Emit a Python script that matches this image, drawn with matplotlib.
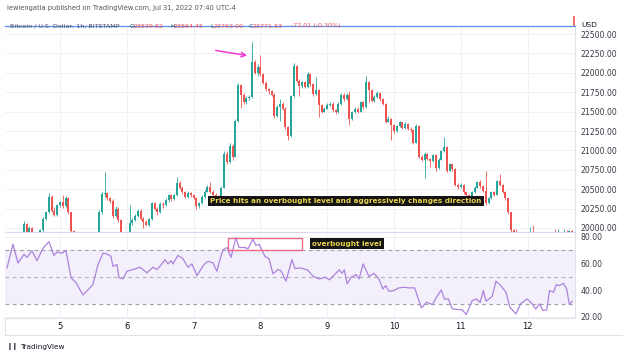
import numpy as np
import matplotlib.pyplot as plt
from matplotlib.patches import Rectangle
from matplotlib.lines import Line2D

# =========================
# DATA (BTC/USD 1h, Jul 4 - Jul 12 2022)
# =========================
start_day = 4 + 5 / 24   # first candle: Jul 4, 05:00
first_open = 19690

closes = [
    19720, 19780, 19850, 19810, 19760, 19800, 20050, 19920, 20000, 19900,
    19870, 19890, 19970, 20120, 20200, 20400, 20220, 20170, 20290, 20330,
    20280, 20390, 20200, 19960, 19800, 19650, 19550, 19420, 19480, 19560,
    19620, 19700, 19780, 20200, 20440, 20450, 20380, 20350, 20150, 20250,
    20100, 19900, 19850, 19880, 20060, 20100, 20150, 20220, 20120, 20080,
    20040, 20110, 20320, 20250, 20200, 20310, 20290, 20360, 20420, 20370,
    20420, 20580, 20520, 20460, 20400, 20450, 20420, 20390, 20280, 20320,
    20400, 20470, 20530, 20470, 20430, 20380, 20400, 20520, 20960, 20850,
    21060, 20920, 21380, 21840, 21720, 21620, 21670, 21690, 22140, 22000,
    22080, 21980, 21870, 21790, 21760, 21720, 21440, 21560, 21600, 21540,
    21300, 21180, 21700, 22090, 21900, 21830, 21880, 21820, 21990, 21850,
    21730, 21780, 21580, 21500, 21540, 21590, 21600, 21520, 21490, 21600,
    21720, 21660, 21720, 21400, 21490, 21540, 21500, 21620, 21560, 21880,
    21780, 21640, 21690, 21740, 21660, 21600, 21370, 21410, 21330, 21250,
    21310, 21360, 21290, 21340, 21280, 21260, 21100, 21320, 20920, 20880,
    20960, 20890, 20860, 20940, 20770, 20880, 20990, 21050, 20740, 20820,
    20760, 20560, 20530, 20560, 20460, 20420, 20400, 20460, 20520, 20590,
    20540, 20480, 20320, 20380, 20460, 20430, 20600, 20560, 20470, 20380,
    20200, 19970, 19880, 19820, 19760, 19700, 19720, 19820, 19940, 19900,
    19840, 19780, 19720, 19760, 19690, 19700, 19880, 19860, 19920, 19900,
    19950, 19930, 19960, 19820,
]
highs = [
    19760, 19800, 19880, 19870, 19830, 19830, 20090, 20070, 20020, 20010,
    19920, 19910, 19990, 20140, 20220, 20450, 20420, 20270, 20310, 20350,
    20430, 20410, 20400, 20210, 19980, 19820, 19670, 19570, 19510, 19580,
    19650, 19720, 19800, 20230, 20470, 20720, 20470, 20400, 20370, 20280,
    20270, 20110, 19920, 19900, 20290, 20130, 20180, 20240, 20240, 20140,
    20100, 20130, 20340, 20340, 20270, 20330, 20330, 20380, 20440, 20440,
    20440, 20660, 20600, 20540, 20480, 20480, 20470, 20440, 20400, 20340,
    20420, 20490, 20560, 20590, 20490, 20450, 20420, 20540, 20990, 20990,
    21090, 21080, 21400, 21870, 21850, 21740, 21700, 21720, 22400, 22160,
    22120, 22230, 22000, 21890, 21810, 21780, 21740, 21590, 21660, 21620,
    21560, 21320, 21720, 22130, 22100, 21920, 21900, 21900, 22010, 22000,
    21870, 21950, 21790, 21600, 21560, 21610, 21620, 21620, 21540, 21620,
    21740, 21740, 21740, 21760, 21510, 21560, 21560, 21640, 21640, 21960,
    21890, 21790, 21710, 21760, 21750, 21670, 21610, 21440, 21420, 21340,
    21330, 21380, 21370, 21360, 21350, 21300, 21280, 21340, 21330, 20940,
    20980, 20970, 20900, 20960, 20950, 20900, 21010, 21170, 21060, 20840,
    20830, 20770, 20580, 20580, 20570, 20480, 20440, 20480, 20540, 20610,
    20620, 20550, 20740, 20400, 20480, 20480, 20620, 20700, 20570, 20480,
    20390, 20210, 19990, 19990, 19840, 19780, 19740, 19840, 20010, 20040,
    19910, 19850, 19790, 19780, 19770, 19720, 19900, 19990, 19990, 19940,
    19990, 19970, 19980, 19970,
]
lows = [
    19670, 19710, 19770, 19790, 19740, 19750, 19790, 19900, 19910, 19880,
    19850, 19860, 19880, 19950, 20100, 20190, 20200, 20150, 20160, 20270,
    20260, 20270, 20180, 19900, 19760, 19620, 19520, 19380, 19400, 19460,
    19540, 19600, 19690, 19770, 20180, 20400, 20360, 20320, 20130, 20140,
    20080, 19870, 19820, 19830, 19870, 20040, 20090, 20140, 20100, 20000,
    20020, 20030, 20100, 20230, 20170, 20190, 20260, 20280, 20340, 20350,
    20360, 20410, 20500, 20440, 20380, 20390, 20400, 20370, 20240, 20260,
    20310, 20390, 20460, 20450, 20410, 20360, 20300, 20390, 20510, 20820,
    20840, 20880, 20910, 21370, 21550, 21600, 21600, 21650, 21680, 21980,
    21960, 21960, 21850, 21770, 21730, 21700, 21420, 21430, 21380, 21520,
    21280, 21130, 21170, 21690, 21880, 21700, 21810, 21800, 21810, 21830,
    21700, 21720, 21430, 21480, 21490, 21530, 21570, 21500, 21470, 21480,
    21590, 21640, 21650, 21330, 21390, 21480, 21480, 21490, 21540, 21550,
    21620, 21620, 21630, 21680, 21640, 21580, 21350, 21360, 21140, 21230,
    21240, 21300, 21270, 21280, 21260, 21240, 21080, 21090, 20900, 20860,
    20650, 20870, 20780, 20850, 20730, 20760, 20870, 20980, 20720, 20730,
    20740, 20540, 20500, 20520, 20440, 20400, 20380, 20390, 20450, 20510,
    20520, 20460, 20300, 20310, 20370, 20410, 20420, 20540, 20450, 20360,
    20180, 19950, 19860, 19800, 19740, 19680, 19680, 19710, 19810, 19880,
    19820, 19760, 19700, 19710, 19670, 19680, 19690, 19840, 19850, 19880,
    19890, 19910, 19920, 19800,
]

# RSI(14) line, sampled along the chart (day of month, value)
rsi_days = [
    4.207, 4.296, 4.371, 4.461, 4.506, 4.581, 4.656, 4.746, 4.835, 4.910,
    4.955, 5.030, 5.090, 5.165, 5.240, 5.344, 5.404, 5.494, 5.569, 5.644,
    5.704, 5.763, 5.793, 5.853, 5.883, 5.943, 6.003, 6.093, 6.198, 6.302,
    6.392, 6.452, 6.527, 6.572, 6.617, 6.662, 6.692, 6.766, 6.841, 6.916,
    6.976, 7.051, 7.156, 7.216, 7.290, 7.350, 7.380, 7.440, 7.500, 7.560,
    7.635, 7.680, 7.769, 7.814, 7.889, 7.934, 7.979, 8.069, 8.129, 8.189,
    8.263, 8.308, 8.383, 8.473, 8.518, 8.593, 8.705, 8.795, 8.883, 8.973,
    9.033, 9.121, 9.181, 9.223, 9.257, 9.299, 9.359, 9.436, 9.478, 9.537,
    9.626, 9.698, 9.775, 9.834, 9.876, 9.924, 9.996, 10.072, 10.150, 10.220,
    10.310, 10.410, 10.488, 10.576, 10.636, 10.708, 10.754, 10.814, 10.874, 11.022,
    11.082, 11.171, 11.231, 11.290, 11.337, 11.379, 11.469, 11.527, 11.599, 11.677,
    11.735, 11.825, 11.895, 11.991, 12.061, 12.121, 12.181, 12.229, 12.287, 12.329,
    12.389, 12.430, 12.478, 12.537, 12.585, 12.626, 12.668,
]
rsi_vals = [
    56.8, 74.6, 60.5, 67.0, 64.7, 69.6, 62.2, 71.6, 76.5, 66.2,
    68.6, 67.9, 69.9, 49.4, 45.7, 36.5, 39.5, 44.4, 59.3, 67.9,
    67.2, 65.4, 58.0, 59.3, 49.4, 48.6, 54.3, 55.6, 57.3, 53.1,
    57.3, 55.6, 59.8, 63.0, 59.8, 62.2, 59.8, 66.2, 63.7, 57.3,
    59.8, 51.1, 59.3, 61.7, 60.5, 54.3, 60.5, 70.4, 72.1, 64.7,
    79.5, 72.1, 72.1, 71.1, 78.5, 73.6, 74.6, 65.4, 63.7, 52.3,
    55.6, 54.8, 46.9, 63.0, 56.3, 56.8, 55.3, 50.3, 48.5, 49.8,
    47.8, 52.3, 55.3, 52.8, 55.3, 44.8, 49.8, 51.8, 48.5, 59.8,
    50.3, 52.8, 48.5, 41.0, 43.5, 39.3, 39.8, 41.8, 42.3, 41.8,
    41.8, 26.8, 31.0, 29.3, 34.8, 40.3, 33.5, 33.5, 26.0, 25.3,
    21.8, 32.3, 33.5, 31.0, 39.8, 31.8, 35.3, 46.8, 43.5, 38.5,
    27.3, 22.3, 29.8, 33.5, 30.3, 26.0, 29.8, 24.8, 25.3, 39.8,
    38.5, 44.3, 43.5, 45.3, 41.0, 29.3, 31.8,
]

price_ticks = [20000, 20250, 20500, 20750, 21000, 21250, 21500, 21750, 22000, 22250, 22500]
rsi_ticks = [20, 40, 60, 80]
rsi_levels = [70, 50, 30]
day_ticks = [5, 6, 7, 8, 9, 10, 11, 12]

# =========================
# FIGURE
# =========================
W, H = 624, 357
fig = plt.figure(figsize=(W / 100, H / 100), dpi=100)
fig.patch.set_facecolor('white')
plt.rcParams['font.family'] = ['DejaVu Sans']

def fx(x):
    return x / W

def fy(y):
    return 1 - y / H

UP, DOWN = '#26a69a', '#ef5350'
TXT = '#131722'
GRID = '#f0f1f6'

ax = fig.add_axes([fx(5), fy(232), 570 / W, 205 / H])
ax2 = fig.add_axes([fx(5), fy(318), 570 / W, 85 / H])

x_lo, x_hi = 4.177, 12.710

# ---- price pane ----
opens = [first_open] + closes[:-1]
t = start_day + np.arange(len(closes)) / 24
o = np.array(opens)
c = np.array(closes)
colors = np.where(c >= o, UP, DOWN)
ax.vlines(t, lows, highs, colors=colors, linewidth=0.6, zorder=3)
ax.bar(t, np.maximum(np.abs(c - o), 6), bottom=np.minimum(o, c), width=0.72 / 24,
       color=colors, linewidth=0, zorder=4)

ax.set_xlim(x_lo, x_hi)
ax.set_ylim(19948, 22591)
ax.set_xticks(day_ticks)
ax.set_yticks(price_ticks)
ax.set_xticklabels([])
ax.yaxis.tick_right()
ax.set_yticklabels([f'{v:.2f}' for v in price_ticks], fontsize=5.6, color='#363a45')
ax.tick_params(length=0, pad=4)
ax.grid(True, color=GRID, linewidth=0.7)
ax.set_axisbelow(True)
for s in ['top', 'left']:
    ax.spines[s].set_visible(False)
ax.spines['right'].set_color('#e0e3eb')
ax.spines['right'].set_linewidth(0.8)
ax.spines['bottom'].set_color('#ddd6f2')
ax.spines['bottom'].set_linewidth(0.8)

# annotations on the price pane
ax.annotate('', xy=(7.844, 22217), xytext=(7.290, 22294),
            arrowprops=dict(arrowstyle='->', color='#f03ad8', lw=1.1, mutation_scale=8))
ax.text(9.28, 20348, 'Price hits an overbought level and aggressively changes direction',
        ha='center', va='center', fontsize=5.2, fontweight='bold', color='#e8d44d',
        bbox=dict(boxstyle='square,pad=0.3', fc='#151515', ec='none'), zorder=6)

# ---- RSI pane ----
ax2.axhspan(30, 70, color='#f4f0fb', zorder=0, linewidth=0)
ax2.plot(rsi_days, rsi_vals, color='#ab82dc', linewidth=0.9, zorder=3)
for lvl in rsi_levels:
    ax2.axhline(lvl, color='#a0a0a8' if lvl != 50 else '#b4b4bc', linewidth=0.8,
                linestyle=(0, (3.5, 3)), zorder=2)
ax2.add_patch(Rectangle((7.515, 70.25), 8.623 - 7.515, 9.0, fill=False,
                        edgecolor='#ef6a86', linewidth=1.0, zorder=5))
ax2.text(9.296, 75.1, 'overbought level', ha='center', va='center', fontsize=5.2,
         fontweight='bold', color='#e8d44d',
         bbox=dict(boxstyle='square,pad=0.3', fc='#151515', ec='none'), zorder=6)

ax2.set_xlim(x_lo, x_hi)
ax2.set_ylim(19.2, 83)
ax2.set_xticks(day_ticks)
ax2.set_xticklabels([str(d) for d in day_ticks], fontsize=6, color=TXT)
ax2.set_yticks(rsi_ticks)
ax2.yaxis.tick_right()
ax2.set_yticklabels([f'{v:.2f}' for v in rsi_ticks], fontsize=5.6, color='#363a45')
ax2.tick_params(length=0, pad=4)
ax2.tick_params(axis='x', pad=3)
ax2.grid(True, color=GRID, linewidth=0.7)
ax2.set_axisbelow(True)
for s in ['top', 'left']:
    ax2.spines[s].set_visible(False)
for s in ['right', 'bottom']:
    ax2.spines[s].set_color('#e0e3eb')
    ax2.spines[s].set_linewidth(0.8)

# ---- header / frame / footer ----
fig.text(fx(7), fy(8), 'lewiengatia published on TradingView.com, Jul 31, 2022 07:40 UTC-4',
         fontsize=4.8, color='#50535e', va='center')
fig.text(fx(10), fy(26), 'Bitcoin / U.S. Dollar, 1h, BITSTAMP', fontsize=4.6,
         color='#50535e', va='center')
ohlc = [('O', '23839.82', 130), ('H', '23864.45', 170), ('L', '23763.00', 210),
        ('C', '23771.53', 249)]
for k, v, xp in ohlc:
    fig.text(fx(xp), fy(26), k, fontsize=4.6, color='#50535e', va='center')
    fig.text(fx(xp + 4), fy(26), v, fontsize=4.6, color=DOWN, va='center')
fig.text(fx(291), fy(26), '-72.01 (-0.30%)', fontsize=4.6, color=DOWN, va='center')
fig.add_artist(Line2D([fx(5), fx(575)], [fy(26), fy(26)], color='#5b8def', linewidth=0.9))
fig.add_artist(Line2D([fx(574), fx(574)], [fy(17), fy(25)], color=DOWN, linewidth=1.2))
fig.text(fx(581), fy(25), 'USD', fontsize=5.4, color=TXT, va='center')
fig.add_artist(Line2D([fx(5), fx(622)], [fy(335), fy(335)], color='#e0e3eb', linewidth=0.8))
fig.add_artist(Line2D([fx(5), fx(5)], [fy(318), fy(335)], color='#e0e3eb', linewidth=0.8))
fig.text(fx(7), fy(347), '\u2759\u2759', fontsize=5, color=TXT, va='center', fontweight='bold')
fig.text(fx(20), fy(347), 'TradingView', fontsize=5.3, color=TXT, va='center')

fig.savefig('out.png', dpi=100)
